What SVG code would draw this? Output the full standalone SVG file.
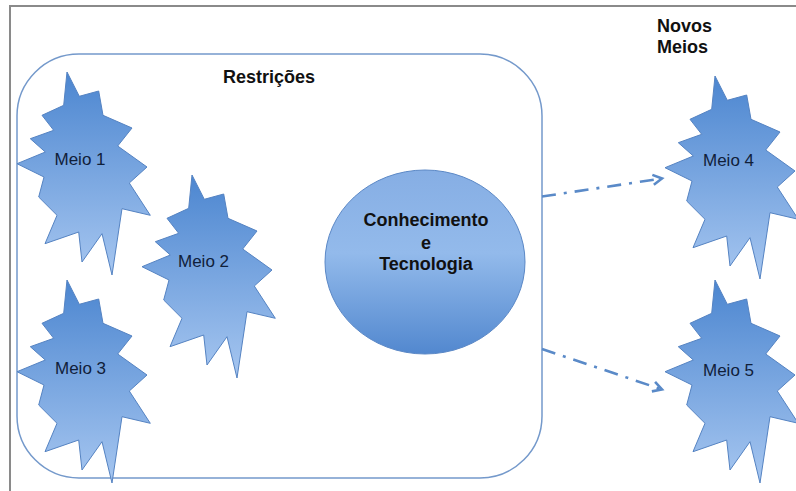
<svg xmlns="http://www.w3.org/2000/svg" xmlns:xlink="http://www.w3.org/1999/xlink" width="796" height="491" viewBox="0 0 796 491">
  <style>
    .frame { fill: none; stroke: #8a8a8a; stroke-width: 2; }
    .bound { fill: #ffffff; stroke: #7499cb; stroke-width: 1.5; }
    .burst { fill: url(#burstFill); stroke: #5583c2; stroke-width: 1; stroke-linejoin: miter; }
    .core { fill: url(#coreFill); stroke: #5b88c6; stroke-width: 1; }
    .title { font-family: "Liberation Sans", Arial, sans-serif; font-size: 18px; font-weight: bold; fill: #111111; }
    .lbl { font-family: "Liberation Sans", Arial, sans-serif; font-size: 17px; fill: #10203a; text-anchor: middle; }
    .flow { fill: none; stroke: #5a8ac8; stroke-width: 2.6; stroke-dasharray: 14 8 3 8; marker-end: url(#chev); }
  </style>
  <defs>
    <linearGradient id="burstFill" x1="0" y1="0" x2="0" y2="1">
      <stop offset="0" stop-color="#4c86d0"/>
      <stop offset="1" stop-color="#a6c6f0"/>
    </linearGradient>
    <linearGradient id="coreFill" x1="0" y1="0" x2="0" y2="1">
      <stop offset="0" stop-color="#86aee4"/>
      <stop offset="0.45" stop-color="#93baeb"/>
      <stop offset="1" stop-color="#5288cf"/>
    </linearGradient>
    <marker id="chev" viewBox="0 0 12 12" refX="10" refY="6" markerWidth="12" markerHeight="12" markerUnits="userSpaceOnUse" orient="auto" overflow="visible">
      <path d="M1,1 L10,6 L1,11" fill="none" stroke="#5a8ac8" stroke-width="2.6"/>
    </marker>
    <!-- jagged burst outline, local box about 134 x 204 -->
    <path id="burstShape" d="M50,0 L62.3,24.3 L81.7,19 L86,43.3 L115,56 L100.7,74 L130,95 L112.3,111 L133.3,143.3 L105,136.7 L95,203 L85,161.7 L65,190 L61.7,160 L28,171.7 L40,143.3 L21.7,125 L27,105 L0,91.7 L28.3,80 L13.3,66.7 L36.7,58.3 L25,43.3 L46.7,33.3 Z"/>
  </defs>

  <rect width="796" height="491" fill="#ffffff"/>
  <!-- outer frame edges -->
  <path class="frame" d="M10,491 L10,6 L796,6"/>

  <g id="restricoes">
    <rect class="bound" x="17" y="54" width="525" height="424" rx="62" ry="62"/>
    <text class="title" x="269" y="83" text-anchor="middle">Restrições</text>
  </g>

  <g id="novos-meios">
    <text class="title" x="657" y="32">Novos</text>
    <text class="title" x="657" y="53">Meios</text>
  </g>

  <g id="connectors">
    <path class="flow" d="M542,196.5 L662,178.5"/>
    <path class="flow" d="M542,349 L662,389.5"/>
  </g>

  <g id="conhecimento">
    <ellipse class="core" cx="425" cy="262" rx="100" ry="92"/>
    <text class="title" x="426" y="226" text-anchor="middle">Conhecimento</text>
    <text class="title" x="426" y="248.5" text-anchor="middle">e</text>
    <text class="title" x="426" y="270" text-anchor="middle">Tecnologia</text>
  </g>

  <g id="meio1">
    <use class="burst" xlink:href="#burstShape" x="17" y="72"/>
    <text class="lbl" x="80" y="164.5">Meio 1</text>
  </g>

  <g id="meio2">
    <use class="burst" xlink:href="#burstShape" x="142" y="175"/>
    <text class="lbl" x="203.5" y="266.5">Meio 2</text>
  </g>

  <g id="meio3">
    <use class="burst" xlink:href="#burstShape" x="17" y="280"/>
    <text class="lbl" x="80.5" y="373.5">Meio 3</text>
  </g>

  <g id="meio4">
    <use class="burst" xlink:href="#burstShape" x="665" y="76"/>
    <text class="lbl" x="728.5" y="166">Meio 4</text>
  </g>

  <g id="meio5">
    <use class="burst" xlink:href="#burstShape" x="665" y="280"/>
    <text class="lbl" x="728.5" y="376">Meio 5</text>
  </g>
</svg>
